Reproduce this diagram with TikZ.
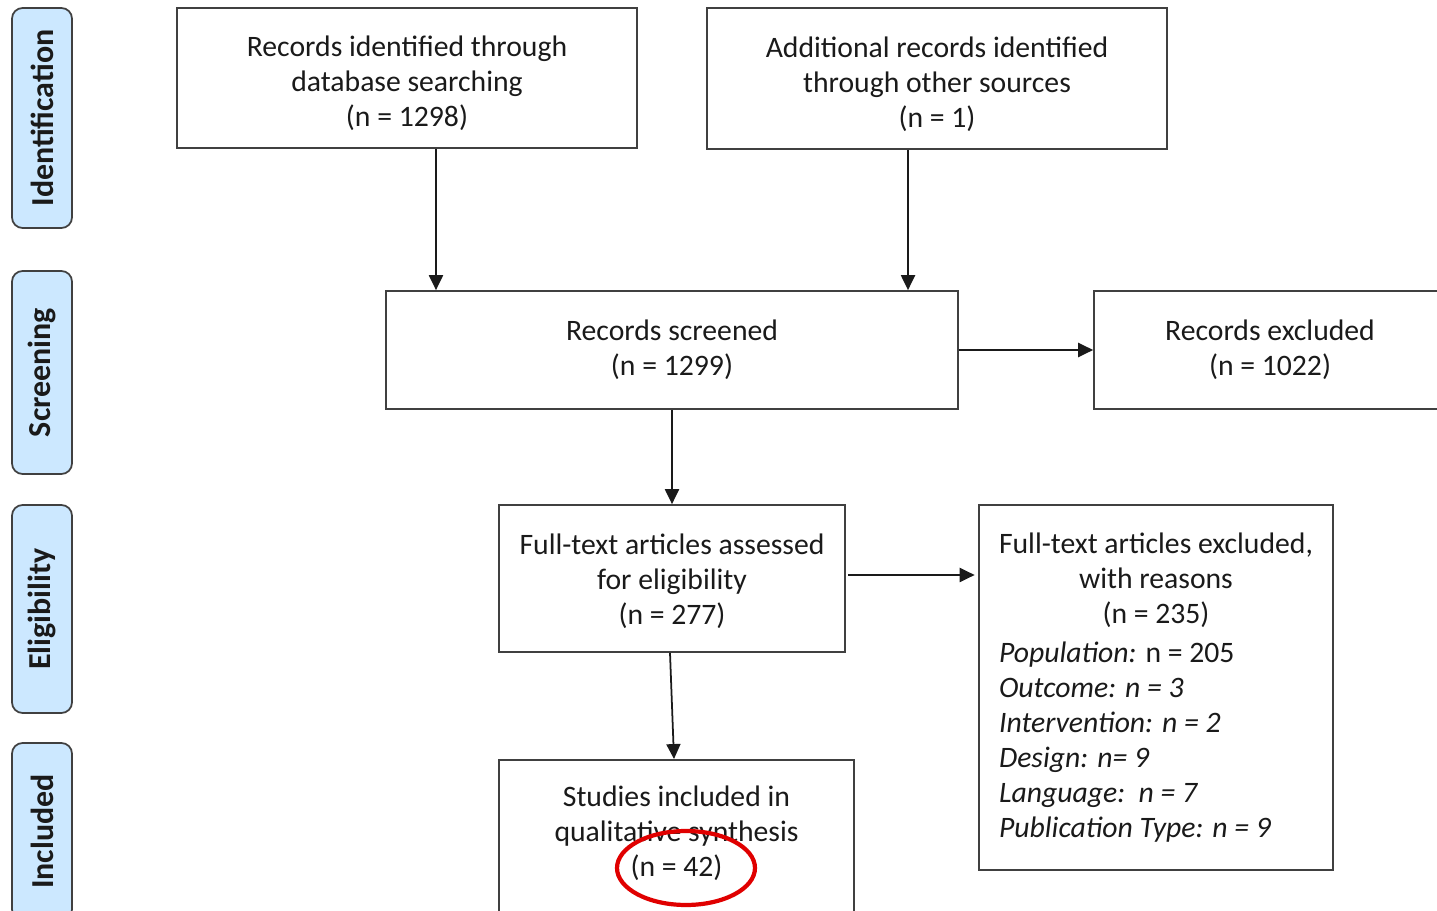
\documentclass[tikz,border=0pt]{standalone}
\usepackage{fontspec}
\setmainfont{Carlito}
\usetikzlibrary{arrows.meta}
\definecolor{boxgray}{HTML}{404040}
\definecolor{textblack}{HTML}{1A1A1A}
\definecolor{phaseblue}{HTML}{CCE8FF}
\definecolor{markred}{HTML}{E00000}

\begin{document}
\begin{tikzpicture}[x = 0.02cm, y = -0.02cm]
	\tikzstyle{boxStyle}=[draw = boxgray, line width = 1pt, inner sep = 0pt, align = center, text = textblack, font = \fontsize{16.9}{19.9}\selectfont]
	\tikzstyle{phaseStyle}=[draw = boxgray, fill = phaseblue, line width = 1pt, rounded corners = 6pt, rotate = 90, inner sep = 0pt, minimum height = 1.2cm, text = textblack, font = \bfseries\fontsize{18.2}{20}\selectfont]
	\tikzstyle{arrowStyle}=[-{Triangle[length = 8.5pt, width = 8pt]}, line width = 1pt, draw = textblack]
	\useasboundingbox (0, 0) rectangle (1437, 911);
	\clip (0, 0) rectangle (1437, 911);
	\node[phaseStyle, minimum width = 4.40cm] (ident) at (42, 118) {Identification};
	\node[phaseStyle, minimum width = 4.06cm] (screen) at (42, 372.5) {Screening};
	\node[phaseStyle, minimum width = 4.16cm] (elig) at (42, 609) {Eligibility};
	\node[phaseStyle, minimum width = 3.54cm] (incl) at (42, 831.5) {Included};
	\node[boxStyle, minimum width = 9.20cm, minimum height = 2.80cm] (dbrec) at (407, 78) {\rule{0pt}{18pt}Records identified through\\database searching\\(n = 1298)};
	\node[boxStyle, minimum width = 9.20cm, minimum height = 2.82cm] (otherrec) at (937, 78.5) {\rule{0pt}{18pt}Additional records identified\\through other sources\\(n = 1)};
	\node[boxStyle, minimum width = 11.44cm, minimum height = 2.36cm] (screened) at (672, 350) {Records screened\\(n = 1299)};
	\node[boxStyle, minimum width = 7.04cm, minimum height = 2.36cm] (excluded) at (1270, 350) {Records excluded\\(n = 1022)};
	\node[boxStyle, minimum width = 6.92cm, minimum height = 2.94cm] (fulltext) at (672, 578.5) {\rule{0pt}{14.5pt}Full-text articles assessed\\for eligibility\\(n = 277)};
	\node[boxStyle, align = none, text width = 6.28cm, minimum height = 7.30cm, inner xsep = 0.4cm] (ftexcl) at (1156, 687.5) {\raggedright
		\makebox[\linewidth]{Full-text articles excluded,}\\
		\makebox[\linewidth]{with reasons}\\
		\makebox[\linewidth]{(n = 235)}\\[2.8pt]
		\textit{Population:} n = 205\\
		\textit{Outcome: n = 3}\\
		\textit{Intervention: n = 2}\\
		\textit{Design: n= 9}\\
		\textit{Language:\ \ n = 7}\\
		\textit{Publication Type: n = 9}\par};
	\node[boxStyle, minimum width = 7.10cm, minimum height = 4.00cm, anchor = north] (studies) at (676.5, 759) {};
	\node[boxStyle, draw = none] (studiestext) at (676.5, 833) {Studies included in\\qualitative synthesis\\(n = 42)};
	\draw[arrowStyle] ([xshift = 0.58cm]dbrec.south) -- ([xshift = 0.58cm]dbrec.south |- screened.north);
	\draw[arrowStyle] ([xshift = -0.58cm]otherrec.south) -- ([xshift = -0.58cm]otherrec.south |- screened.north);
	\draw[arrowStyle] (screened.east) -- (excluded.west);
	\draw[arrowStyle] (screened.south) -- (fulltext.north);
	\draw[arrowStyle, shorten <= 1.5pt, shorten >= 2pt] ([yshift = 0.07cm]fulltext.east) -- ([yshift = 0.07cm]fulltext.east -| ftexcl.west);
	\draw[arrowStyle] ([xshift = -0.04cm]fulltext.south) -- ([xshift = -0.05cm]studies.north);
	\draw[markred, line width = 2.4pt] (686, 868) ellipse [x radius = 1.38cm, y radius = 0.74cm];
\end{tikzpicture}
\end{document}
